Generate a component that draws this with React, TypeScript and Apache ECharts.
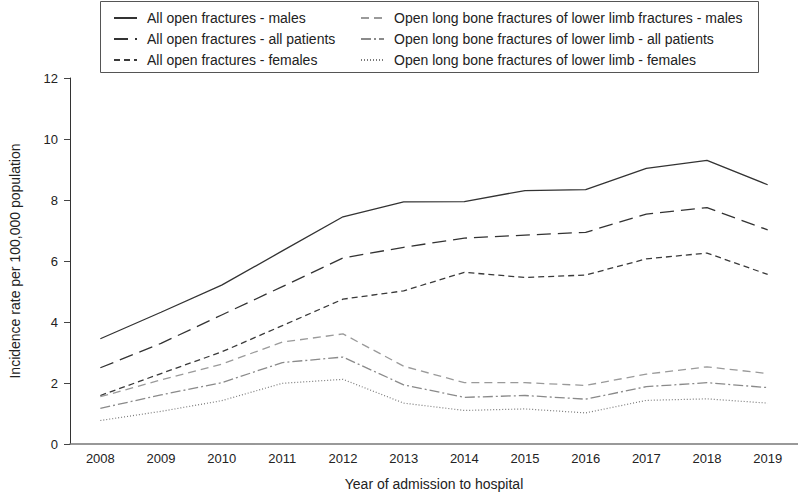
import React, { useEffect, useRef } from "react";
import * as echarts from "echarts";

const years = ["2008","2009","2010","2011","2012","2013","2014","2015","2016","2017","2018","2019"];
const seriesNames = [
  "All open fractures - males",
  "All open fractures - all patients",
  "All open fractures - females",
  "Open long bone fractures of lower limb fractures - males",
  "Open long bone fractures of lower limb - all patients",
  "Open long bone fractures of lower limb - females",
];
const allMales = [3.45, 4.32, 5.21, 6.33, 7.45, 7.94, 7.95, 8.31, 8.34, 9.04, 9.30, 8.50];
const allPatients = [2.50, 3.30, 4.23, 5.16, 6.10, 6.45, 6.75, 6.85, 6.94, 7.54, 7.75, 7.02];
const allFemales = [1.59, 2.31, 3.02, 3.88, 4.75, 5.02, 5.63, 5.46, 5.54, 6.07, 6.26, 5.56];
const lbMales = [1.55, 2.10, 2.62, 3.34, 3.61, 2.55, 2.01, 2.01, 1.92, 2.29, 2.53, 2.31];
const lbAll = [1.17, 1.61, 2.01, 2.67, 2.85, 1.94, 1.53, 1.59, 1.47, 1.88, 2.01, 1.85];
const lbFemales = [0.77, 1.07, 1.42, 1.99, 2.12, 1.34, 1.10, 1.15, 1.02, 1.43, 1.48, 1.34];

const FONT = "'Liberation Sans', Arial, Helvetica, sans-serif";

export default function App() {
  const ref = useRef<HTMLDivElement>(null);
  useEffect(() => {
    document.body.style.margin = "0";
    const chart = echarts.init(ref.current!, null, { renderer: "svg" });
    const values = [allMales, allPatients, allFemales, lbMales, lbAll, lbFemales];
    const styles: any[] = [
      { color: "#333333", width: 1.3, type: "solid" },
      { color: "#333333", width: 1.3, type: [14, 7] },
      { color: "#3a3a3a", width: 1.3, type: [6, 4] },
      { color: "#9a9a9a", width: 1.3, type: [8, 5] },
      { color: "#8a8a8a", width: 1.3, type: [10, 3, 2, 3] },
      { color: "#7a7a7a", width: 1.2, type: [1, 2] },
    ];
    const legendCommon = {
      orient: "vertical",
      top: 11,
      itemWidth: 23,
      itemHeight: 14,
      itemGap: 7,
      padding: 0,
      itemStyle: { opacity: 0 },
      textStyle: { fontFamily: FONT, fontSize: 14, color: "#222", padding: [0, 0, 0, 5] },
    };
    chart.setOption({
      animation: false,
      textStyle: { fontFamily: FONT },
      grid: { left: 51, right: 0, top: 78, bottom: 48, containLabel: false },
      graphic: [
        {
          type: "rect",
          shape: { x: 100.5, y: 1.5, width: 658, height: 71 },
          style: { fill: "none", stroke: "#555", lineWidth: 1 },
          z: 0,
        },
      ],
      legend: [
        { ...legendCommon, left: 113, data: seriesNames.slice(0, 3) },
        { ...legendCommon, left: 360, data: seriesNames.slice(3, 6) },
      ],
      xAxis: {
        type: "category",
        data: years,
        boundaryGap: true,
        name: "Year of admission to hospital",
        nameLocation: "middle",
        nameGap: 33,
        nameTextStyle: { fontFamily: FONT, fontSize: 14, color: "#222" },
        axisLine: { lineStyle: { color: "#777", width: 1.5 } },
        axisTick: { alignWithLabel: true, length: 6, lineStyle: { color: "#444" } },
        axisLabel: { fontFamily: FONT, fontSize: 13, color: "#222", margin: 8 },
        splitLine: { show: false },
      },
      yAxis: {
        type: "value",
        min: 0,
        max: 12,
        interval: 2,
        name: "Incidence rate per 100,000 population",
        nameLocation: "middle",
        nameGap: 48,
        nameTextStyle: { fontFamily: FONT, fontSize: 14, color: "#222" },
        axisLine: { show: true, lineStyle: { color: "#333", width: 1 } },
        axisTick: { show: true, length: 6, lineStyle: { color: "#444" } },
        axisLabel: { fontFamily: FONT, fontSize: 13, color: "#222", margin: 12 },
        splitLine: { show: false },
      },
      series: seriesNames.map((name, i) => ({
        name,
        type: "line",
        data: values[i],
        symbol: "none",
        showSymbol: false,
        lineStyle: styles[i],
        itemStyle: { color: styles[i].color },
        z: 10 - i,
      })),
    });
    return () => chart.dispose();
  }, []);
  return <div ref={ref} style={{ width: 798, height: 496 }} />;
}
